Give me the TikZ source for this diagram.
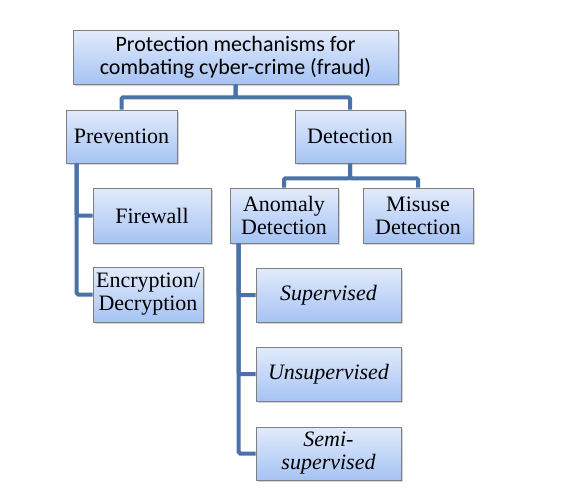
\documentclass[tikz,border=0pt]{standalone}
\usepackage{fontspec}
\setmainfont{LiberationSerif}[Extension=.ttf, UprightFont=*-Regular, ItalicFont=*-Italic,
  BoldFont=*-Bold, BoldItalicFont=*-BoldItalic]
\newfontfamily\titlefont{Carlito}
\usetikzlibrary{shadows}

\definecolor{boxtop}{HTML}{E2EBFB}
\definecolor{boxbottom}{HTML}{A6C3F4}
\definecolor{boxline}{HTML}{7F7F7F}
\definecolor{connblue}{HTML}{4A72A8}

\begin{document}
\begin{tikzpicture}[x=1pt,y=-1pt]
		\tikzstyle{block} = [rectangle, draw=boxline, line width=0.6pt, top color=boxtop,
		bottom color=boxbottom, align=center, inner sep=0pt, font=\fontsize{22}{23}\selectfont,
		drop shadow={shadow xshift=2pt, shadow yshift=-2pt, opacity=0.35}]
		\tikzstyle{conn} = [line width=4pt, draw=connblue, rounded corners=1.5pt]
		\useasboundingbox (0,0) rectangle (563,496);
		\node (title) [block, minimum width=325pt, minimum height=54pt,
		font=\titlefont\fontsize{22}{23}\selectfont] at (235.5,57)
		{Protection mechanisms for\\combating cyber-crime (fraud)};
		\node (prevention) [block, minimum width=111pt, minimum height=53pt] at (121.5,136.5) {Prevention};
		\node (detection) [block, minimum width=110pt, minimum height=53pt] at (350,136.5) {Detection};
		\node (firewall) [block, minimum width=118pt, minimum height=55pt] at (152,215.5) {Firewall};
		\node (encryption) [block, minimum width=110pt, minimum height=55pt] at (148,294.5) {Encryption/\\Decryption};
		\node (anomaly) [block, minimum width=108pt, minimum height=55pt] at (284,215.5) {Anomaly\\Detection};
		\node (misuse) [block, minimum width=110pt, minimum height=55pt] at (418,215.5) {Misuse\\Detection};
		\node (supervised) [block, minimum width=145pt, minimum height=54pt] at (328.5,295) {\itshape Supervised};
		\node (unsupervised) [block, minimum width=145pt, minimum height=54pt] at (328.5,374) {\itshape Unsupervised};
		\node (semi) [block, minimum width=145pt, minimum height=53pt] at (328.5,453.5) {\itshape Semi-\\\itshape supervised};
		\draw [conn] (title.south) -- ++(0,13) -| (prevention.north);
		\draw [conn] (title.south) -- ++(0,13) -| (detection.north);
		\draw [conn] (detection.south) -- ++(0,15) -| (anomaly.north);
		\draw [conn] (detection.south) -- ++(0,15) -| (misuse.north);
		\draw [conn] ([xshift=11pt]prevention.south west) |- (firewall.west);
		\draw [conn] ([xshift=11pt]prevention.south west) |- (encryption.west);
		\draw [conn] ([xshift=9pt]anomaly.south west) |- (supervised.west);
		\draw [conn] ([xshift=9pt]anomaly.south west) |- (unsupervised.west);
		\draw [conn] ([xshift=9pt]anomaly.south west) |- (semi.west);
\end{tikzpicture}
\end{document}
